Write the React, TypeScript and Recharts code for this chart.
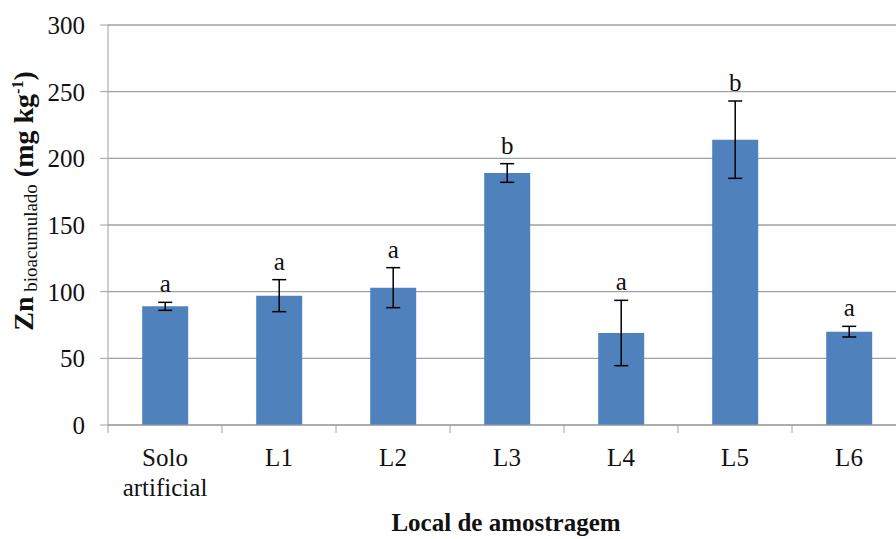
import React from 'react';
import { BarChart, Bar, XAxis, YAxis, CartesianGrid, ErrorBar, LabelList } from 'recharts';

const categories = ['Solo artificial', 'L1', 'L2', 'L3', 'L4', 'L5', 'L6'];
const means = [89, 97, 103, 189, 69, 214, 70];
const errors = [3, 12, 15, 7, 24.5, 29, 4];
const letters = ['a', 'a', 'a', 'b', 'a', 'b', 'a'];
const yTicks = [0, 50, 100, 150, 200, 250, 300];

const data = categories.map((name, i) => ({
  name,
  mean: means[i],
  err: errors[i],
  letter: letters[i],
}));

const FONT = '"Liberation Serif", "Times New Roman", serif';
const serif = { fontFamily: FONT };
const AXIS = '#a0a0a0';
const PLOT_LEFT = 108;
const PLOT_RIGHT = 906;
const PLOT_BOTTOM = 425;
const BAND = (PLOT_RIGHT - PLOT_LEFT) / categories.length;

const XTick = (props: any) => {
  const { x, payload, index } = props;
  const lines = String(payload.value).split(' ');
  const left = x - BAND / 2;
  return (
    <g>
      <line x1={left} y1={PLOT_BOTTOM} x2={left} y2={PLOT_BOTTOM + 8} stroke={AXIS} />
      {index === categories.length - 1 && (
        <line x1={x + BAND / 2} y1={PLOT_BOTTOM} x2={x + BAND / 2} y2={PLOT_BOTTOM + 8} stroke={AXIS} />
      )}
      {lines.map((ln, i) => (
        <text key={i} x={x} y={466 + i * 30} textAnchor="middle" fontSize={25} style={serif} fill="#111">
          {ln}
        </text>
      ))}
    </g>
  );
};

const LetterLabel = (props: any) => {
  const { x, y, width, height, index, value } = props;
  const perUnit = height / means[index];
  const top = y - errors[index] * perUnit;
  return (
    <text x={x + width / 2} y={top - 10} textAnchor="middle" fontSize={25} style={serif} fill="#111">
      {value}
    </text>
  );
};

const YTitle = () => (
  <text
    x={33}
    y={201}
    transform="rotate(-90, 33, 201)"
    textAnchor="middle"
    style={serif}
    fill="#111"
  >
    <tspan fontSize={28} fontWeight="bold">Zn</tspan>
    <tspan fontSize={19} dy={4}> bioacumulado</tspan>
    <tspan fontSize={28} fontWeight="bold" dy={-4}> (mg kg</tspan>
    <tspan fontSize={16} fontWeight="bold" dy={-10}>-1</tspan>
    <tspan fontSize={28} fontWeight="bold" dy={10}>)</tspan>
  </text>
);

const XTitle = () => (
  <text x={506} y={531} textAnchor="middle" fontSize={25} fontWeight="bold" style={serif} fill="#111">
    Local de amostragem
  </text>
);

export default function App() {
  return (
    <div style={{ position: 'fixed', left: 0, top: 0, width: 896, height: 539, overflow: 'hidden', background: '#fff' }}>
      <BarChart
        width={906}
        height={539}
        data={data}
        margin={{ top: 25, right: 0, left: 0, bottom: 0 }}
        barCategoryGap="30%"
      >
        <CartesianGrid vertical={false} stroke={AXIS} strokeWidth={1.3} />
        <XAxis
          dataKey="name"
          height={114}
          axisLine={{ stroke: AXIS }}
          tickLine={false}
          interval={0}
          tick={<XTick />}
          label={<XTitle />}
        />
        <YAxis
          width={108}
          domain={[0, 300]}
          ticks={yTicks}
          interval={0}
          tickSize={8}
          tickMargin={15}
          axisLine={{ stroke: AXIS }}
          tickLine={{ stroke: AXIS }}
          tick={{ fill: '#111', fontSize: 25, fontFamily: FONT }}
          label={<YTitle />}
        />
        <Bar dataKey="mean" fill="#4f81bd" isAnimationActive={false}>
          <ErrorBar dataKey="err" width={7} stroke="#000" strokeWidth={1.5} />
          <LabelList dataKey="letter" content={<LetterLabel />} />
        </Bar>
      </BarChart>
    </div>
  );
}
